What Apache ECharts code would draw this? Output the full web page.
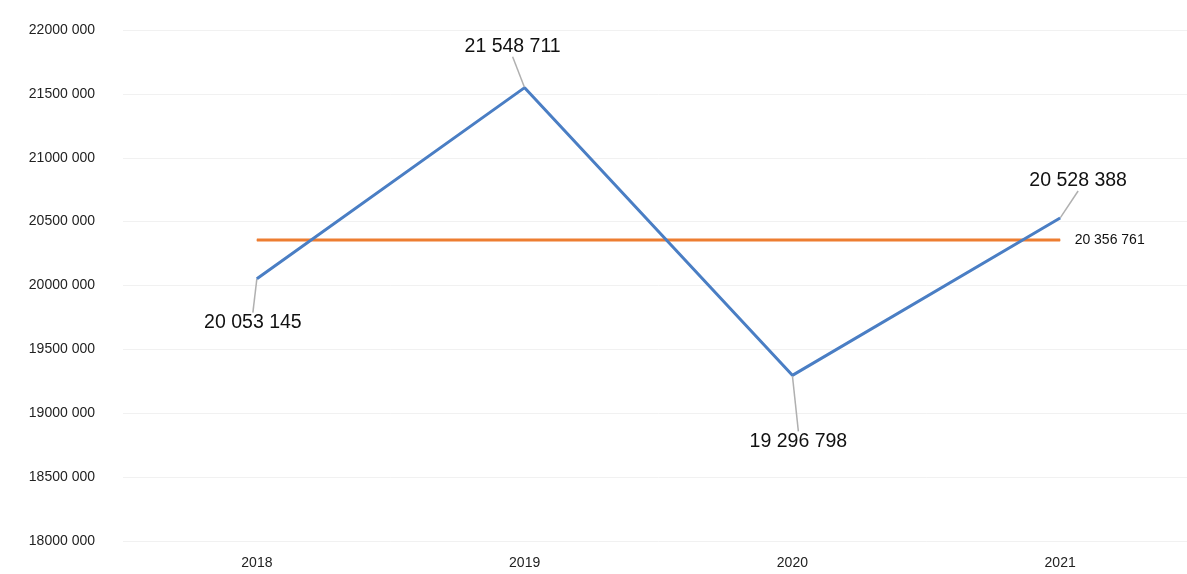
<!DOCTYPE html>
<html>
<head>
<meta charset="utf-8">
<script src="https://cdn.jsdelivr.net/npm/echarts@6/dist/echarts.min.js"></script>
<style>html,body{margin:0;padding:0;background:#fff;overflow:hidden}#c{width:1200px;height:574px}</style>
</head>
<body>
<div id="c"></div>
<script>
var categories = ['2018', '2019', '2020', '2021'];
var actualValues = [20053145, 21548711, 19296798, 20528388];
var averageValues = [20356761, 20356761, 20356761, 20356761];

function spaced(v) {
  return String(v).replace(/\B(?=(\d{3})+(?!\d))/g, ' ');
}

var chart = echarts.init(document.getElementById('c'));
var blueOffsets = [[-4, 44], [-12, -41], [6, 66], [18, -37]];

chart.setOption({
  animation: false,
  backgroundColor: '#fff',
  grid: { left: 123, right: 6, top: 30, bottom: 33, containLabel: false },
  xAxis: {
    type: 'category',
    data: categories,
    boundaryGap: true,
    axisLine: { show: false },
    axisTick: { show: false },
    axisLabel: { color: '#222', fontSize: 14, fontFamily: 'Liberation Sans', margin: 15 }
  },
  yAxis: {
    type: 'value',
    min: 18000000,
    max: 22000000,
    interval: 500000,
    axisLine: { show: false },
    axisTick: { show: false },
    splitLine: { lineStyle: { color: '#f1f1f1', width: 1 } },
    axisLabel: {
      color: '#222', fontSize: 14, fontFamily: 'Liberation Sans', margin: 28,
      formatter: function (v) { return Math.floor(v / 1000) + ' 000'; }
    }
  },
  series: [
    {
      name: 'Actual',
      type: 'line',
      data: actualValues,
      symbol: 'circle',
      symbolSize: 1,
      showSymbol: true,
      lineStyle: { color: '#4a7ec4', width: 3 },
      itemStyle: { color: '#4a7ec4' },
      label: {
        show: true, position: 'inside', color: '#111', fontSize: 19.5,
        fontFamily: 'Liberation Sans',
        formatter: function (p) { return spaced(p.value); }
      },
      labelLine: { show: true, lineStyle: { color: '#b0b0b0', width: 1.5 } },
      labelLayout: function (p) {
        var o = blueOffsets[p.dataIndex];
        return { dx: o[0], dy: o[1], hideOverlap: false };
      },
      z: 3
    },
    {
      name: 'Average',
      type: 'line',
      data: averageValues,
      symbol: 'circle',
      symbolSize: 1,
      showSymbol: true,
      lineStyle: { color: '#ed7d31', width: 3 },
      itemStyle: { color: '#ed7d31' },
      label: {
        show: true, position: 'right', distance: 14, color: '#111', fontSize: 14,
        fontFamily: 'Liberation Sans',
        formatter: function (p) { return p.dataIndex === categories.length - 1 ? spaced(p.value) : ''; }
      },
      z: 2
    }
  ]
});
</script>
</body>
</html>
